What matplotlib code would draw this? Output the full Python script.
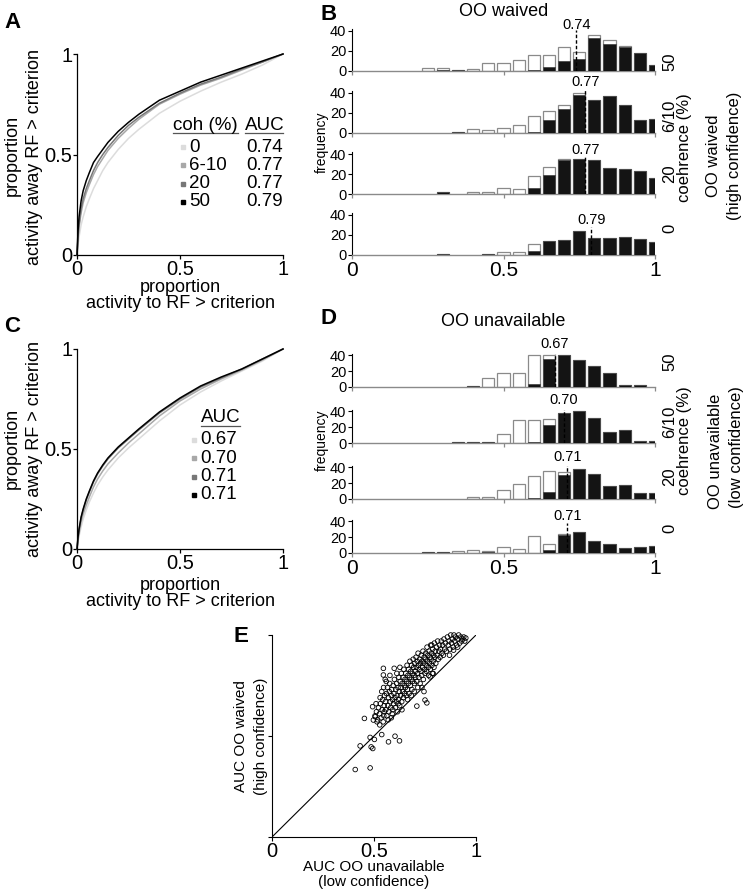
import numpy as np
import matplotlib
matplotlib.use('Agg')
import matplotlib.pyplot as plt
from matplotlib.lines import Line2D

plt.rcParams['font.family'] = ['Liberation Sans', 'DejaVu Sans']

# ---------------- data ----------------
roc_x = [0, 0.005, 0.01, 0.02, 0.03, 0.045, 0.06, 0.08, 0.1, 0.125, 0.15, 0.2, 0.25, 0.3,
         0.4, 0.5, 0.6, 0.7, 0.8, 0.9, 1.0]
# panel A (OO waived), per coherence
roc_a_0 = [0, .05, .09, .15, .19, .24, .28, .33, .37, .42, .46, .525, .58, .625, .705, .765, .815, .86, .90, .945, 1]
roc_a_610 = [0, .08, .14, .21, .26, .31, .35, .40, .44, .48, .52, .58, .63, .675, .75, .80, .845, .88, .92, .96, 1]
roc_a_20 = [0, .09, .15, .23, .28, .33, .37, .42, .46, .50, .535, .595, .645, .685, .755, .805, .85, .885, .925, .96, 1]
roc_a_50 = [0, .12, .19, .27, .32, .37, .41, .46, .49, .525, .56, .615, .66, .70, .77, .815, .86, .895, .93, .965, 1]
# panel C (OO unavailable)
roc_c_0 = [0, .035, .065, .11, .15, .195, .235, .28, .32, .36, .395, .455, .505, .55, .64, .72, .785, .84, .89, .94, 1]
roc_c_610 = [0, .045, .08, .135, .175, .22, .26, .31, .35, .39, .425, .48, .53, .575, .665, .74, .80, .85, .895, .945, 1]
roc_c_20 = [0, .055, .095, .155, .195, .245, .285, .335, .375, .415, .45, .505, .55, .595, .68, .75, .81, .855, .90, .95, 1]
roc_c_50 = [0, .06, .10, .16, .20, .25, .29, .34, .38, .42, .455, .51, .555, .60, .685, .755, .815, .86, .90, .95, 1]

coh_labels = ['0', '6-10', '20', '50']
auc_a = ['0.74', '0.77', '0.77', '0.79']
auc_c = ['0.67', '0.70', '0.71', '0.71']
coh_colors = ['#dcdcdc', '#a8a8a8', '#777777', '#000000']

bin_centers = [0.25, 0.30, 0.35, 0.40, 0.45, 0.50, 0.55, 0.60, 0.65, 0.70, 0.75, 0.80, 0.85, 0.90, 0.95, 1.00]
# OO waived histograms (total, significant)
b50_tot = [3, 3, 1, 2, 8, 8, 11, 16, 16, 24, 19, 36, 31, 25, 18, 6]
b50_sig = [0, 1, 1, 0, 0, 0, 0, 1, 4, 10, 12, 33, 27, 24, 18, 6]
b610_tot = [0, 0, 1, 4, 3, 5, 8, 17, 22, 28, 40, 33, 37, 28, 13, 14]
b610_sig = [0, 0, 1, 0, 0, 0, 0, 1, 13, 24, 38, 33, 37, 28, 13, 14]
b20_tot = [0, 2, 0, 2, 2, 6, 5, 18, 27, 35, 35, 34, 26, 25, 23, 16]
b20_sig = [0, 2, 0, 0, 0, 0, 0, 6, 19, 34, 35, 34, 26, 25, 23, 16]
b0_tot = [0, 1, 0, 0, 1, 3, 3, 11, 14, 15, 24, 17, 17, 18, 16, 13]
b0_sig = [0, 1, 0, 0, 1, 0, 0, 4, 14, 15, 24, 17, 17, 18, 16, 13]
# OO unavailable histograms
d50_tot = [0, 0, 0, 1, 11, 18, 18, 40, 40, 40, 34, 27, 18, 3, 3, 0]
d50_sig = [0, 0, 0, 1, 0, 0, 0, 4, 35, 40, 34, 27, 18, 3, 3, 0]
d610_tot = [0, 0, 1, 1, 1, 12, 29, 29, 30, 38, 41, 32, 14, 16, 3, 2]
d610_sig = [0, 0, 1, 1, 1, 0, 0, 1, 23, 38, 41, 32, 14, 16, 3, 2]
d20_tot = [0, 0, 0, 2, 2, 11, 19, 29, 36, 34, 38, 32, 17, 18, 8, 8]
d20_sig = [0, 0, 0, 0, 0, 0, 0, 1, 9, 31, 38, 32, 17, 18, 8, 8]
d0_tot = [1, 1, 3, 4, 2, 7, 5, 21, 11, 24, 27, 15, 11, 6, 8, 9]
d0_sig = [1, 1, 0, 0, 1, 0, 0, 0, 4, 23, 26, 15, 11, 6, 8, 9]

b_medians = [0.74, 0.77, 0.77, 0.79]
d_medians = [0.67, 0.70, 0.71, 0.71]
row_labels = ['50', '6/10', '20', '0']

# panel E: AUC (low confidence, x) vs AUC (high confidence, y)
auc_unavail = [
    0.505, 0.512, 0.518, 0.522, 0.527, 0.531, 0.535, 0.54, 0.543, 0.548, 0.55, 0.552, 0.515, 0.528, 0.545, 0.53, 0.538, 0.547, 0.51, 0.55,
    0.556, 0.558, 0.561, 0.563, 0.566, 0.568, 0.571, 0.573, 0.575, 0.577, 0.58, 0.582, 0.585, 0.587, 0.589, 0.591, 0.594, 0.596, 0.598, 0.6, 0.57, 0.585, 0.592, 0.56, 0.578,
    0.603, 0.605, 0.607, 0.609, 0.611, 0.613, 0.615, 0.618, 0.62, 0.622, 0.624, 0.626, 0.628, 0.63, 0.632, 0.634, 0.636, 0.638, 0.64, 0.642, 0.644, 0.646, 0.648, 0.65, 0.612, 0.627, 0.619, 0.637,
    0.652, 0.654, 0.656, 0.658, 0.66, 0.662, 0.664, 0.666, 0.668, 0.67, 0.672, 0.674, 0.676, 0.678, 0.68, 0.682, 0.684, 0.686, 0.688, 0.69, 0.692, 0.694, 0.696, 0.698, 0.7, 0.665, 0.683, 0.697,
    0.702, 0.704, 0.706, 0.708, 0.71, 0.712, 0.714, 0.716, 0.718, 0.72, 0.722, 0.724, 0.726, 0.728, 0.73, 0.732, 0.734, 0.736, 0.738, 0.74, 0.742, 0.744, 0.746, 0.748, 0.75, 0.715, 0.735, 0.745,
    0.752, 0.754, 0.756, 0.758, 0.76, 0.762, 0.764, 0.766, 0.768, 0.77, 0.772, 0.774, 0.776, 0.778, 0.78, 0.782, 0.784, 0.786, 0.788, 0.79, 0.792, 0.794, 0.796, 0.798, 0.8,
    0.803, 0.806, 0.809, 0.812, 0.815, 0.818, 0.821, 0.824, 0.827, 0.83, 0.833, 0.836, 0.84, 0.843, 0.846, 0.85,
    0.855, 0.86, 0.864, 0.868, 0.872, 0.876, 0.88, 0.884, 0.888, 0.892, 0.896, 0.9, 0.905, 0.91, 0.915, 0.92, 0.925, 0.93, 0.935, 0.94, 0.945, 0.95, 0.87, 0.89, 0.91,
    0.408, 0.481, 0.432, 0.481, 0.486, 0.494, 0.502, 0.538, 0.571, 0.603, 0.625, 0.453, 0.493, 0.497, 0.506, 0.546, 0.546, 0.555, 0.599, 0.75, 0.759, 0.71, 0.783, 0.775, 0.79]
auc_waived = [
    0.60, 0.62, 0.58, 0.64, 0.61, 0.66, 0.59, 0.63, 0.68, 0.60, 0.65, 0.70, 0.57, 0.555, 0.57, 0.69, 0.72, 0.74, 0.66, 0.62,
    0.67, 0.63, 0.71, 0.60, 0.74, 0.65, 0.69, 0.62, 0.72, 0.76, 0.67, 0.64, 0.70, 0.73, 0.61, 0.68, 0.75, 0.66, 0.71, 0.78, 0.58, 0.59, 0.63, 0.77, 0.80,
    0.69, 0.64, 0.73, 0.67, 0.76, 0.70, 0.62, 0.74, 0.68, 0.79, 0.72, 0.65, 0.77, 0.70, 0.74, 0.81, 0.67, 0.76, 0.72, 0.79, 0.69, 0.83, 0.75, 0.71, 0.81, 0.84, 0.66, 0.63,
    0.78, 0.74, 0.81, 0.70, 0.77, 0.85, 0.73, 0.80, 0.76, 0.83, 0.71, 0.79, 0.87, 0.75, 0.82, 0.78, 0.85, 0.73, 0.81, 0.77, 0.88, 0.84, 0.80, 0.76, 0.86, 0.68, 0.70, 0.72,
    0.82, 0.79, 0.89, 0.84, 0.77, 0.87, 0.81, 0.91, 0.85, 0.79, 0.83, 0.88, 0.76, 0.86, 0.82, 0.90, 0.80, 0.87, 0.84, 0.92, 0.78, 0.86, 0.89, 0.83, 0.81, 0.74, 0.74, 0.72,
    0.88, 0.91, 0.85, 0.82, 0.94, 0.87, 0.90, 0.84, 0.80, 0.92, 0.86, 0.89, 0.83, 0.95, 0.88, 0.91, 0.85, 0.81, 0.93, 0.87, 0.90, 0.84, 0.96, 0.89, 0.92,
    0.86, 0.94, 0.90, 0.97, 0.88, 0.92, 0.95, 0.89, 0.93, 0.97, 0.91, 0.95, 0.90, 0.98, 0.93, 0.96,
    0.92, 0.99, 0.95, 0.97, 0.93, 1.0, 0.96, 0.98, 0.94, 1.0, 0.97, 0.99, 0.95, 0.98, 1.0, 0.96, 0.99, 0.97, 0.98, 0.99, 0.97, 0.985, 0.90, 0.925, 0.94,
    0.334, 0.342, 0.451, 0.493, 0.446, 0.438, 0.483, 0.507, 0.471, 0.499, 0.476, 0.587, 0.645, 0.579, 0.595, 0.835, 0.802, 0.78, 0.835, 0.678, 0.664, 0.648, 0.95, 0.793, 0.81]

# ---------------- figure ----------------
W, H = 749, 892
fig = plt.figure(figsize=(W / 100, H / 100), dpi=100)


def add_ax(l, t, r, b):
    return fig.add_axes([l / W, 1 - b / H, (r - l) / W, (b - t) / H])


def ftext(x, y, s, **kw):
    kw.setdefault('ha', 'center')
    kw.setdefault('va', 'center')
    fig.text(x / W, 1 - y / H, s, **kw)


def fline(x0, x1, y, **kw):
    fig.add_artist(Line2D([x0 / W, x1 / W], [1 - y / H, 1 - y / H],
                          transform=fig.transFigure, **kw))


def fmark(x, y, color):
    fig.add_artist(Line2D([x / W], [1 - y / H], transform=fig.transFigure,
                          marker='s', ms=3.2, mfc=color, mec=color, ls='none'))


def roc_panel(ax, curves):
    for yv, c in zip(curves, coh_colors):
        ax.plot(roc_x, yv, color=c, lw=1.1, clip_on=False)
    ax.set_xlim(0, 1)
    ax.set_ylim(0, 1)
    for s in ['top', 'right']:
        ax.spines[s].set_visible(False)
    for s in ['left', 'bottom']:
        ax.spines[s].set_linewidth(0.9)
    ax.set_xticks([0, 0.5, 1])
    ax.set_xticklabels(['0', '0.5', '1'])
    ax.set_yticks([0, 0.5, 1])
    ax.set_yticklabels(['0', '0.5', '1'])
    ax.tick_params(labelsize=14.5, length=3, width=0.9, pad=0.5)


# Panel A
axA = add_ax(77, 54, 283, 255)
roc_panel(axA, [roc_a_0, roc_a_610, roc_a_20, roc_a_50])
ftext(12, 155, 'proportion', rotation=90, fontsize=13)
ftext(35, 157, 'activity away RF > criterion', rotation=90, fontsize=13)
ftext(180, 287, 'proportion', fontsize=13)
ftext(180, 304, 'activity to RF > criterion', fontsize=13)
ftext(173, 125, 'coh (%)', ha='left', fontsize=13.5)
ftext(245, 125, 'AUC', ha='left', fontsize=13.5)
fline(173, 238, 133, color='#555555', lw=0.9)
fline(245, 283, 133, color='#555555', lw=0.9)
for i, (lab, auc, col) in enumerate(zip(coh_labels, auc_a, coh_colors)):
    yy = 147 + i * 18.3
    fmark(183, yy, col)
    ftext(189, yy, lab, ha='left', fontsize=13.5)
    ftext(246, yy, auc, ha='left', fontsize=13.5)

# Panel C
axC = add_ax(77, 349, 283, 549)
roc_panel(axC, [roc_c_0, roc_c_610, roc_c_20, roc_c_50])
ftext(12, 448, 'proportion', rotation=90, fontsize=13)
ftext(35, 449, 'activity away RF > criterion', rotation=90, fontsize=13)
ftext(180, 585, 'proportion', fontsize=13)
ftext(180, 602, 'activity to RF > criterion', fontsize=13)
ftext(201, 417, 'AUC', ha='left', fontsize=13.5)
fline(201, 240, 426, color='#555555', lw=0.9)
for i, (auc, col) in enumerate(zip(auc_c, coh_colors)):
    yy = 440 + i * 18.3
    fmark(194, yy, col)
    ftext(200, yy, auc, ha='left', fontsize=13.5)


def hist_row(ax, tot, sig, med, lab_y, line_top, last):
    c = np.array(bin_centers)
    t = np.array(tot)
    s = np.array(sig)
    mt = t > 0
    ms = s > 0
    ax.bar(c[mt], t[mt], width=0.04, color='white', edgecolor='#8a8a8a', lw=0.9, zorder=2)
    ax.bar(c[ms], s[ms], width=0.04, color='#141414', edgecolor='#4a4a4a', lw=0.6, zorder=3)
    ax.plot([med, med], [0, line_top], color='k', lw=1.0, ls=(0, (2.5, 1.5)), zorder=4)
    ax.text(med, lab_y, f'{med:.2f}', ha='center', va='center', fontsize=10.5)
    ax.set_xlim(0, 1)
    ax.set_ylim(0, 42)
    for sp in ['top', 'right']:
        ax.spines[sp].set_visible(False)
    ax.spines['left'].set_linewidth(0.8)
    ax.spines['bottom'].set_color('#8a8a8a')
    ax.spines['bottom'].set_linewidth(1.0)
    ax.set_yticks([0, 20, 40])
    ax.set_yticklabels(['0', '20', '40'])
    ax.set_xticks([0, 0.5, 1])
    ax.tick_params(axis='y', labelsize=10.5, length=3, width=0.8, pad=1)
    ax.tick_params(axis='x', length=3, width=0.9, color='#8a8a8a', labelsize=15, pad=1)
    if last:
        ax.set_xticklabels(['0', '0.5', '1'])
    else:
        ax.set_xticklabels([])


# Panel B
b_tot = [b50_tot, b610_tot, b20_tot, b0_tot]
b_sig = [b50_sig, b610_sig, b20_sig, b0_sig]
b_base = [71, 133, 194, 255]
b_lab = [(46, 41), (51, 45), (44, 38), (35, 28)]
for i in range(4):
    ax = add_ax(352, b_base[i] - 42, 655, b_base[i])
    hist_row(ax, b_tot[i], b_sig[i], b_medians[i], b_lab[i][0], b_lab[i][1], i == 3)

# Panel D
d_tot = [d50_tot, d610_tot, d20_tot, d0_tot]
d_sig = [d50_sig, d610_sig, d20_sig, d0_sig]
d_base = [387, 443, 499, 553]
d_lab = [(55, 48), (55, 45), (53, 45), (47, 38)]
dh = 42 * 0.79
for i in range(4):
    ax = add_ax(352, d_base[i] - dh, 655, d_base[i])
    hist_row(ax, d_tot[i], d_sig[i], d_medians[i], d_lab[i][0], d_lab[i][1], i == 3)

ftext(504, 11, 'OO waived', fontsize=13)
ftext(503, 322, 'OO unavailable', fontsize=13)
ftext(322, 142, 'frequency', rotation=90, fontsize=10)
ftext(322, 440, 'frequency', rotation=90, fontsize=10)

for lab, yy in zip(row_labels, [62, 116, 174, 228]):
    ftext(670, yy, lab, rotation=90, fontsize=12)
ftext(685, 148, 'coehrence (%)', rotation=90, fontsize=12)
ftext(714, 156, 'OO waived', rotation=90, fontsize=12)
ftext(735, 156, '(high confidence)', rotation=90, fontsize=12)

for lab, yy in zip(row_labels, [362, 422, 477, 528]):
    ftext(670, yy, lab, rotation=90, fontsize=12)
ftext(685, 441, 'coehrence (%)', rotation=90, fontsize=12)
ftext(716, 451, 'OO unavailable', rotation=90, fontsize=12)
ftext(736, 447, '(low confidence)', rotation=90, fontsize=12)

# Panel E
axE = add_ax(272, 635, 476, 837)
axE.plot([0, 1], [0, 1], color='k', lw=0.8)
axE.scatter(auc_unavail, auc_waived, s=11, facecolors='none', edgecolors='k',
            linewidths=0.6, clip_on=False, zorder=3)
axE.set_xlim(0, 1)
axE.set_ylim(0, 1)
for sp in ['top', 'right']:
    axE.spines[sp].set_visible(False)
for sp in ['left', 'bottom']:
    axE.spines[sp].set_linewidth(0.8)
axE.set_xticks([0, 0.5, 1])
axE.set_xticklabels(['0', '0.5', '1'])
axE.set_yticks([0, 0.5, 1])
axE.set_yticklabels([])
axE.tick_params(labelsize=14.5, length=3, width=0.8, pad=0.5)
ftext(374, 867, 'AUC OO unavailable', fontsize=11)
ftext(374, 882, '(low confidence)', fontsize=11)
ftext(241, 736, 'AUC OO waived', rotation=90, fontsize=11)
ftext(261, 736, '(high confidence)', rotation=90, fontsize=11)

# panel letters
for let, (x, y) in zip('ABCDE', [(12, 22), (329, 14), (12, 327), (329, 318), (241, 637)]):
    ftext(x, y, let, fontsize=16, fontweight='bold')

fig.savefig('out.png', dpi=100)
